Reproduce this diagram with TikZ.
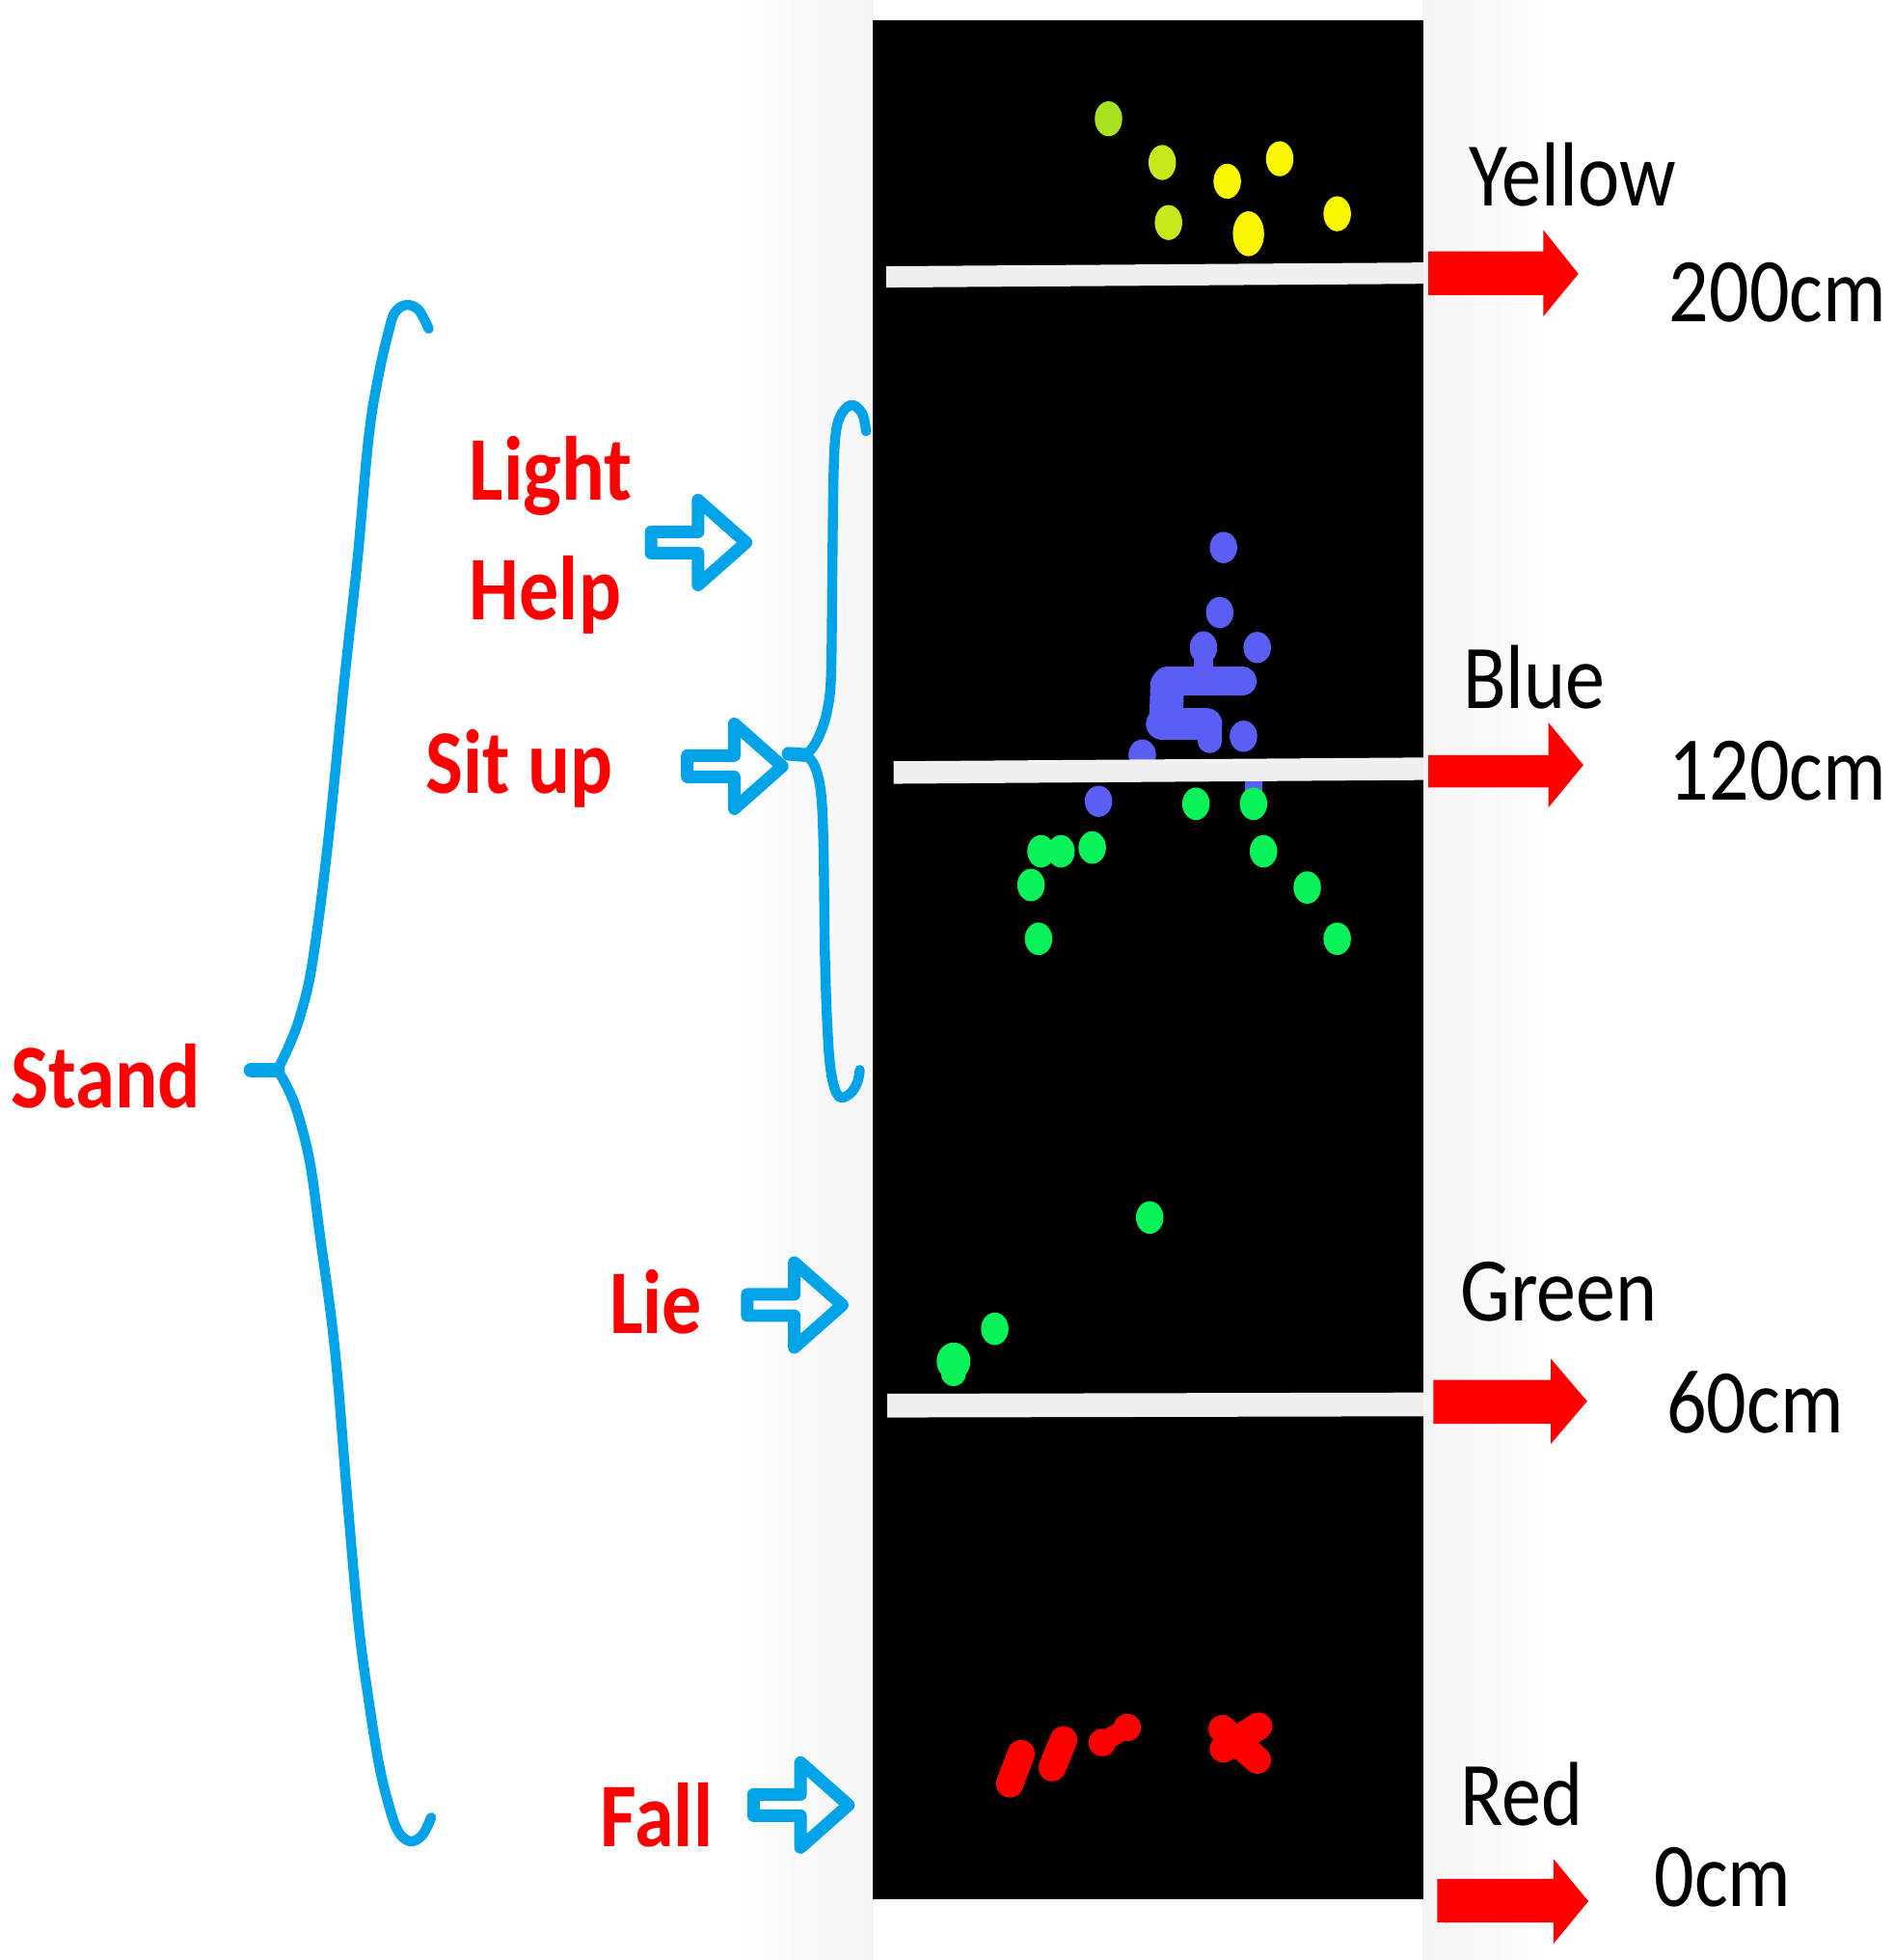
\documentclass[tikz,border=0pt]{standalone}
\usepackage{fontspec}
\setmainfont{Carlito}
\usetikzlibrary{shapes.arrows}
\definecolor{skyb}{RGB}{0,162,232}
\definecolor{dotyel}{RGB}{250,246,0}
\definecolor{dotlime}{RGB}{168,226,30}
\definecolor{dotgy}{RGB}{200,232,28}
\definecolor{dotblue}{RGB}{90,94,245}
\definecolor{dotgreen}{RGB}{10,242,90}
\definecolor{barwhite}{RGB}{240,240,240}
\begin{document}
\begin{tikzpicture}[x=0.01cm,y=-0.01cm,
  lbl/.style={inner sep=0pt, anchor=base west, font=\fontsize{18}{20}\selectfont},
  rlbl/.style={lbl, text=red, font=\fontsize{18}{20}\selectfont\bfseries},
  hollow/.style={single arrow, draw=skyb, line width=0.1cm, line join=round,
    minimum height=0.76cm, minimum width=0.68cm, single arrow head extend=0.15cm,
    single arrow tip angle=83, inner sep=0pt, outer sep=0pt, anchor=tip},
  brace/.style={draw=skyb, line width=0.08cm, line cap=round, line join=round},
  redarrow/.style={fill=red},
  bar/.style={fill=barwhite},
  blob/.style={draw=dotblue, line cap=round},
  rblob/.style={draw=red, line cap=round}
]
\useasboundingbox (0,0) rectangle (1515,1568);
\fill[white] (0,0) rectangle (1515,1568);
% halo around panel
\shade[left color=white, right color=black!4] (580,0) rectangle (699,1568);
\shade[left color=black!4, right color=white] (1138,0) rectangle (1250,1568);

% black panel
\fill[black] (698,16) rectangle (1139,1519);

% yellow dots
\fill[dotlime] (887,95) ellipse [x radius=11, y radius=14];
\fill[dotgy] (930,130) ellipse [x radius=11, y radius=14];
\fill[dotgy] (935,178) ellipse [x radius=11, y radius=14];
\fill[dotyel] (982,145) ellipse [x radius=11, y radius=14];
\fill[dotyel] (1024,127) ellipse [x radius=11, y radius=14];
\fill[dotyel] (999,187) ellipse [x radius=12.5, y radius=18];
\fill[dotyel] (1070,171) ellipse [x radius=11, y radius=14];

% blue dots and blob
\fill[dotblue] (979,438) ellipse [x radius=11, y radius=12.5];
\fill[dotblue] (976,490) ellipse [x radius=11, y radius=12.5];
\fill[dotblue] (963,518) ellipse [x radius=11, y radius=13];
\fill[dotblue] (1006,518) ellipse [x radius=11, y radius=12.5];
\draw[blob, line width=0.16cm] (963,520) -- (963,540);
\draw[blob, line width=0.23cm] (934,545) -- (994,545);
\draw[blob, line width=0.26cm] (930,579) -- (965,579);
\draw[blob, line width=0.27cm] (934,548) -- (933,578);
\draw[blob, line width=0.19cm] (968,580) -- (968,593);
\fill[dotblue] (995,589) ellipse [x radius=11, y radius=12.5];
\fill[dotblue] (914,604) ellipse [x radius=11, y radius=12.5];
\fill[dotblue] (879,641) ellipse [x radius=11, y radius=12.5];
\fill[dotblue] (996,624) rectangle (1010,634);

% green dots
\foreach \p in {(957,643),(1003,643),(833,681),(849,681),(874,678),(1011,681),
  (825,708),(1046,710),(831,751),(1070,751),(920,974),(796,1063)}
  \fill[dotgreen] \p ellipse [x radius=11, y radius=13];
\fill[dotgreen] (763,1089) ellipse [x radius=13.5, y radius=15];
\fill[dotgreen] (763,1099) ellipse [x radius=10, y radius=10];

% red blobs
\draw[rblob, line width=0.22cm] (817,1403) -- (808,1427);
\draw[rblob, line width=0.22cm] (851,1392) -- (842,1414);
\fill[red] (882,1394) circle [radius=11];
\fill[red] (902,1382) circle [radius=11];
\draw[rblob, line width=0.16cm] (882,1394) -- (902,1382);
\draw[rblob, line width=0.22cm] (978,1383) -- (1006,1408);
\draw[rblob, line width=0.22cm] (1007,1381) -- (979,1399);
\fill[red] (990,1394) ellipse [x radius=16, y radius=11];

% white bars
\fill[bar] (709,213) -- (1139,210) -- (1139,227) -- (709,230) -- cycle;
\fill[bar] (715,609) -- (1139,606) -- (1139,624) -- (715,627) -- cycle;
\fill[bar] (710,1115) -- (1139,1114) -- (1139,1133) -- (710,1134) -- cycle;

% red arrows
\fill[redarrow] (1143,201) -- (1235,201) -- (1235,184) -- (1263,219) -- (1235,253) -- (1235,236) -- (1143,236) -- cycle;
\fill[redarrow] (1143,604) -- (1239,604) -- (1239,578) -- (1267,612) -- (1239,646) -- (1239,630) -- (1143,630) -- cycle;
\fill[redarrow] (1147,1104) -- (1241,1104) -- (1241,1087) -- (1270,1121) -- (1241,1155) -- (1241,1139) -- (1147,1139) -- cycle;
\fill[redarrow] (1150,1503) -- (1243,1503) -- (1243,1487) -- (1271,1521) -- (1243,1555) -- (1243,1538) -- (1150,1538) -- cycle;

% black labels
\node[lbl] (yellow) at (1175,165) {\scalebox{1}[1.15]{Yellow}};
\node[lbl] (c200) at (1335,257) {\scalebox{1}[1.15]{200cm}};
\node[lbl] (blue) at (1170,567) {\scalebox{1}[1.15]{Blue}};
\node[lbl] (c120) at (1335,640) {\scalebox{1}[1.15]{120cm}};
\node[lbl] (green) at (1168,1057) {\scalebox{1}[1.15]{Green}};
\node[lbl] (c60) at (1333,1146) {\scalebox{1}[1.15]{60cm}};
\node[lbl] (redl) at (1168,1460) {\scalebox{1}[1.15]{Red}};
\node[lbl] (c0) at (1323,1525) {\scalebox{1}[1.15]{0cm}};

% red labels
\node[rlbl] (stand) at (8,886) {\scalebox{1.01}[1.15]{Stand}};
\node[rlbl] (light) at (375,400) {\scalebox{1.02}[1.15]{Light}};
\node[rlbl] (help) at (375,496) {\scalebox{1}[1.15]{Help}};
\node[rlbl] (situp) at (340,635) {\scalebox{1}[1.15]{Sit up}};
\node[rlbl] (lie) at (487,1067) {\scalebox{1}[1.15]{Lie}};
\node[rlbl] (fall) at (480,1477) {\scalebox{1}[1.15]{Fall}};

% hollow blue arrows
\node[hollow] (a1) at (597,434) {};
\node[hollow] (a2) at (626,613) {};
\node[hollow] (a3) at (674,1044) {};
\node[hollow] (a4) at (679,1444) {};

% big brace
\draw[brace] plot[smooth, tension=0.6] coordinates {(343,263) (335,248) (325,244) (316,250) (311,265) (303,300) (295,350) (286,448) (276,540) (262,678) (250,770) (241,810) (232,835) (222,856)};
\draw[brace] plot[smooth, tension=0.6] coordinates {(222,856) (230,870) (238,890) (248,930) (256,988) (268,1080) (278,1200) (287,1300) (295,1360) (303,1410) (310,1440) (318,1464) (328,1473) (338,1468) (345,1454)};
\draw[brace, line width=0.12cm] (222,856) -- (201,856);

% small brace
\draw[brace] plot[smooth, tension=0.6] coordinates {(693,345) (690,331) (682,324) (674,330) (669,345) (667,380) (666,460) (665,540) (662,568) (657,585) (651,597) (645,604)};
\draw[brace] plot[smooth, tension=0.6] coordinates {(645,604) (652,613) (657,635) (659,680) (660,760) (662,820) (665,858) (671,877) (680,875) (686,866) (688,856)};
\draw[brace, line width=0.11cm] (645,604) -- (631,603);
\end{tikzpicture}
\end{document}
